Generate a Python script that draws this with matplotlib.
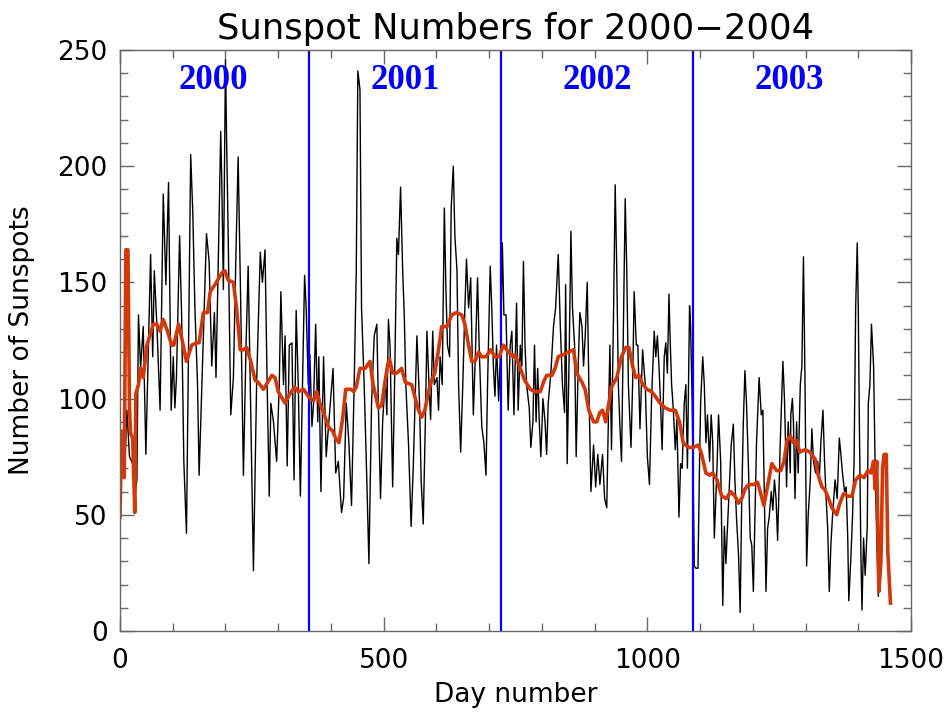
import numpy as np
import matplotlib
matplotlib.use("Agg")
import matplotlib.pyplot as plt
from matplotlib.ticker import MultipleLocator

# daily sunspot numbers (day number, value)
day = [0, 4, 9, 13, 18, 24, 28, 32, 35, 39, 44, 49, 58, 62, 65, 70, 76, 82, 87, 92,
       97, 101, 104, 107, 113, 117, 121, 126, 134, 138, 142, 147, 150, 157, 164, 169, 174, 179, 182, 186,
       191, 193, 196, 200, 202, 205, 210, 215, 220, 224, 229, 234, 239, 243, 247, 253, 259, 266, 270, 275,
       279, 283, 286, 291, 297, 302, 305, 310, 313, 317, 321, 326, 330, 334, 338, 342, 346, 350, 353, 357,
       360, 364, 367, 371, 375, 377, 381, 386, 391, 396, 404, 409, 414, 420, 424, 429, 434, 439, 444, 448,
       451, 455, 458, 463, 468, 472, 477, 482, 487, 490, 494, 498, 503, 506, 509, 512, 517, 520, 525, 528,
       532, 536, 539, 542, 547, 552, 556, 563, 568, 571, 575, 579, 582, 586, 589, 593, 596, 601, 604, 607,
       611, 615, 618, 621, 625, 628, 632, 635, 639, 642, 646, 650, 654, 657, 661, 665, 670, 674, 678, 681,
       686, 690, 694, 697, 702, 705, 708, 711, 714, 718, 722, 725, 728, 732, 736, 740, 743, 747, 752, 755,
       759, 762, 765, 768, 771, 776, 779, 783, 786, 789, 792, 795, 798, 802, 806, 809, 812, 817, 822, 826,
       831, 835, 839, 843, 845, 848, 852, 855, 858, 862, 865, 869, 872, 876, 879, 882, 886, 889, 893, 898,
       902, 906, 910, 915, 919, 923, 926, 929, 932, 936, 939, 942, 945, 948, 951, 955, 958, 961, 964, 969,
       972, 975, 979, 982, 986, 991, 996, 1000, 1004, 1008, 1013, 1016, 1019, 1022, 1025, 1028, 1032, 1035, 1038, 1041,
       1043, 1046, 1049, 1053, 1056, 1060, 1063, 1066, 1070, 1073, 1076, 1080, 1082, 1085, 1089, 1092, 1096, 1099, 1101, 1105,
       1108, 1111, 1114, 1118, 1121, 1124, 1127, 1132, 1135, 1139, 1143, 1146, 1149, 1152, 1156, 1159, 1163, 1166, 1169, 1173,
       1176, 1179, 1182, 1185, 1188, 1192, 1195, 1198, 1201, 1204, 1207, 1212, 1216, 1219, 1222, 1225, 1228, 1231, 1235, 1238,
       1241, 1244, 1247, 1252, 1257, 1260, 1264, 1267, 1271, 1272, 1275, 1277, 1280, 1283, 1286, 1290, 1293, 1296, 1299, 1302,
       1305, 1309, 1312, 1315, 1319, 1323, 1326, 1329, 1333, 1336, 1339, 1342, 1345, 1348, 1351, 1356, 1360, 1364, 1367, 1370,
       1374, 1377, 1380, 1382, 1386, 1389, 1392, 1395, 1398, 1400, 1402, 1405, 1407, 1410, 1413, 1417, 1419, 1422, 1425, 1429,
       1432, 1435, 1438]
spots = [85, 86, 70, 95, 75, 72, 58, 65, 136, 113, 131, 76, 162, 118, 155, 131, 95, 188, 149, 193,
         95, 118, 96, 109, 170, 134, 73, 42, 205, 180, 139, 106, 67, 119, 171, 159, 114, 137, 109, 155,
         215, 193, 147, 246, 213, 172, 93, 109, 164, 204, 139, 67, 123, 157, 106, 26, 106, 163, 150, 164,
         106, 58, 98, 90, 73, 106, 146, 106, 127, 71, 123, 124, 65, 138, 106, 58, 106, 153, 139, 106,
         119, 88, 98, 132, 90, 118, 60, 118, 75, 90, 113, 68, 73, 51, 57, 98, 81, 54, 106, 155,
         241, 233, 139, 106, 65, 29, 98, 127, 132, 96, 57, 90, 109, 93, 134, 123, 62, 98, 169, 162,
         191, 155, 136, 106, 81, 45, 70, 127, 98, 65, 46, 90, 129, 106, 91, 129, 106, 109, 95, 118,
         106, 182, 147, 123, 118, 182, 200, 170, 155, 106, 77, 106, 139, 160, 139, 152, 93, 120, 152, 123,
         88, 81, 67, 106, 157, 139, 114, 101, 123, 99, 123, 167, 136, 136, 95, 123, 129, 93, 141, 95,
         123, 114, 159, 123, 106, 96, 79, 90, 123, 90, 113, 90, 75, 100, 90, 76, 98, 111, 131, 139,
         162, 131, 106, 94, 149, 72, 123, 172, 139, 123, 75, 115, 137, 131, 114, 126, 150, 106, 60, 80,
         62, 76, 63, 76, 57, 53, 90, 123, 78, 139, 192, 155, 106, 88, 73, 139, 186, 155, 106, 79,
         106, 146, 123, 123, 87, 121, 106, 75, 63, 100, 129, 118, 127, 114, 98, 78, 118, 124, 111, 145,
         127, 106, 96, 78, 91, 49, 72, 70, 98, 106, 70, 140, 131, 98, 28, 27, 27, 73, 98, 118,
         106, 81, 93, 73, 93, 81, 40, 70, 93, 73, 11, 45, 29, 45, 65, 80, 89, 65, 49, 32,
         8, 57, 90, 112, 98, 68, 40, 37, 17, 49, 81, 109, 93, 95, 57, 17, 44, 49, 60, 52,
         65, 57, 39, 81, 116, 100, 62, 90, 68, 93, 100, 90, 57, 90, 68, 106, 114, 161, 106, 28,
         50, 65, 87, 73, 68, 73, 65, 81, 95, 73, 57, 44, 17, 37, 49, 65, 57, 83, 76, 68,
         60, 62, 40, 13, 32, 49, 73, 139, 167, 139, 90, 32, 9, 40, 24, 45, 98, 106, 132, 114,
         70, 40, 15]

# running mean (day number, value)
mean_day = [0, 3, 8, 11, 15, 18, 20, 24, 28, 30, 35, 39, 44, 51, 63, 70, 76, 82, 90, 98,
            102, 111, 117, 126, 136, 145, 150, 158, 166, 171, 180, 193, 199, 205, 215, 221, 228, 234, 240, 248,
            256, 262, 272, 280, 288, 294, 300, 313, 322, 331, 338, 348, 357, 367, 373, 379, 389, 395, 403, 409,
            415, 422, 428, 438, 443, 448, 455, 465, 474, 480, 490, 496, 503, 508, 511, 517, 525, 534, 541, 553,
            559, 566, 572, 578, 585, 591, 597, 604, 610, 620, 629, 638, 648, 654, 661, 667, 673, 680, 686, 694,
            703, 711, 719, 727, 736, 746, 749, 759, 767, 778, 787, 797, 803, 809, 819, 825, 831, 841, 850, 860,
            866, 876, 882, 889, 898, 904, 910, 915, 921, 927, 932, 942, 951, 959, 965, 972, 978, 984, 989, 999,
            1008, 1015, 1024, 1034, 1043, 1053, 1061, 1068, 1078, 1087, 1097, 1103, 1111, 1118, 1124, 1132, 1141, 1150, 1158, 1166,
            1173, 1179, 1185, 1192, 1201, 1209, 1214, 1221, 1226, 1236, 1245, 1253, 1259, 1265, 1271, 1277, 1283, 1289, 1299, 1308,
            1318, 1324, 1331, 1336, 1342, 1350, 1359, 1365, 1372, 1381, 1388, 1395, 1403, 1411, 1418, 1424, 1429, 1432, 1435, 1439,
            1443, 1446, 1449, 1453, 1456, 1461]
mean_val = [49, 86, 66, 164, 164, 96, 85, 83, 51, 102, 106, 113, 109, 123, 132, 132, 129, 134, 129, 123,
            123, 132, 126, 116, 123, 124, 124, 137, 137, 146, 149, 154, 155, 151, 150, 139, 121, 121, 122, 116,
            108, 107, 104, 107, 110, 109, 103, 98, 102, 105, 103, 104, 101, 99, 103, 98, 92, 88, 86, 83,
            81, 91, 104, 104, 103, 105, 113, 113, 116, 106, 96, 97, 108, 115, 117, 111, 111, 113, 107, 106,
            101, 95, 92, 95, 103, 108, 111, 121, 131, 131, 136, 137, 136, 132, 123, 116, 116, 120, 118, 118,
            121, 118, 118, 123, 120, 118, 119, 113, 108, 104, 103, 103, 107, 110, 110, 113, 118, 119, 120, 121,
            111, 107, 104, 95, 90, 90, 94, 95, 90, 98, 105, 109, 118, 122, 122, 114, 109, 110, 107, 104,
            103, 101, 98, 96, 95, 95, 90, 81, 79, 79, 80, 76, 68, 67, 68, 65, 58, 57, 60, 58,
            55, 57, 61, 63, 63, 64, 60, 54, 60, 72, 69, 69, 73, 82, 84, 81, 82, 77, 78, 77,
            74, 67, 62, 61, 58, 53, 50, 55, 59, 58, 58, 65, 67, 66, 69, 68, 73, 61, 73, 17,
            30, 70, 76, 76, 34, 12]

# first day of each new year, and the year labels
year_start = [358, 722, 1086]
year_names = ["2000", "2001", "2002", "2003"]
year_label_day = [176, 540, 905, 1269]

fig = plt.figure(figsize=(9.48, 7.15), dpi=100)
ax = fig.add_axes([0.1266, 0.1175, 0.8344, 0.8126])

ax.plot(day, spots, color="black", lw=1.0)
for d in year_start:
    ax.axvline(d, color="#0000ff", lw=1.6)
ax.plot(mean_day, mean_val, color="#d2380a", lw=2.6)

for d, name in zip(year_label_day, year_names):
    ax.text(d, 237, name, color="#0000ff", fontsize=25, fontweight="bold",
            family="Liberation Serif", ha="center", va="center")

ax.set_xlim(0, 1500)
ax.set_ylim(0, 250)
ax.xaxis.set_major_locator(MultipleLocator(500))
ax.xaxis.set_minor_locator(MultipleLocator(100))
ax.yaxis.set_major_locator(MultipleLocator(50))
ax.yaxis.set_minor_locator(MultipleLocator(10))
ax.tick_params(which="both", direction="in", top=True, right=True,
               color="#666666", width=1.0)
ax.tick_params(which="major", length=10, labelsize=19)
ax.tick_params(axis="y", which="major", pad=9)
ax.tick_params(axis="x", which="major", pad=12)
ax.tick_params(which="minor", length=6)
for s in ax.spines.values():
    s.set_color("#666666")
    s.set_linewidth(1.0)

ax.set_title("Sunspot Numbers for 2000\u22122004", fontsize=25.5, pad=8)
ax.set_xlabel("Day number", fontsize=19, va="center")
ax.set_ylabel("Number of Sunspots", fontsize=19, va="center")
ax.xaxis.set_label_coords(0.5, -0.11)
ax.yaxis.set_label_coords(-0.124, 0.5)

fig.savefig("out.png", dpi=100)
